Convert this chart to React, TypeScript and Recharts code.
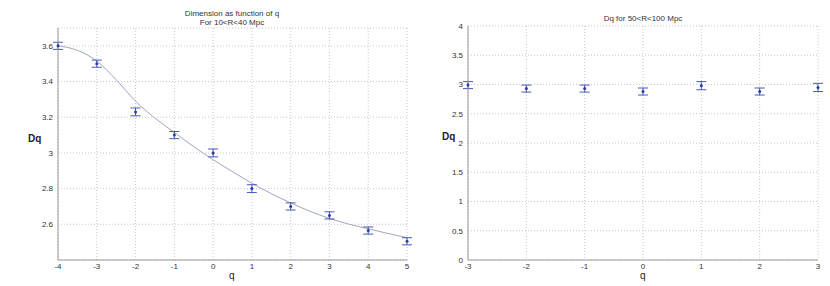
import React from "react";
import {
  ComposedChart,
  Line,
  Scatter,
  ErrorBar,
  XAxis,
  YAxis,
  CartesianGrid
} from "recharts";

// left panel: 10<R<40 Mpc
const qLeft = [-4, -3, -2, -1, 0, 1, 2, 3, 4, 5];
const dqLeft = [3.6, 3.5, 3.23, 3.1, 3.0, 2.8, 2.7, 2.65, 2.565, 2.505];
const errLeft = [0.02, 0.02, 0.022, 0.02, 0.022, 0.022, 0.02, 0.02, 0.02, 0.02];
// fitted curve, read at half steps of q
const qFit = [-4, -3.5, -3, -2.5, -2, -1.5, -1, -0.5, 0, 0.5, 1, 1.5, 2, 2.5, 3, 3.5, 4, 4.5, 5];
const fitLeft = [
  3.6, 3.575, 3.515, 3.41, 3.29, 3.195, 3.115, 3.035, 2.962, 2.895, 2.83,
  2.772, 2.72, 2.673, 2.633, 2.601, 2.575, 2.549, 2.525
];
const yTicksLeft = [2.6, 2.8, 3, 3.2, 3.4, 3.6];

// right panel: 50<R<100 Mpc
const qRight = [-3, -2, -1, 0, 1, 2, 3];
const dqRight = [2.99, 2.93, 2.93, 2.88, 2.98, 2.88, 2.95];
const errRight = [0.06, 0.06, 0.06, 0.06, 0.07, 0.06, 0.07];
const yTicksRight = [0, 0.5, 1, 1.5, 2, 2.5, 3, 3.5, 4];

const FONT = "'Liberation Sans', Arial, sans-serif";
const BLUE = "#2a3aa6";
const GRID = "#c8c8c8";
const BOX = "#9a9a9a";

const pointsLeft = qLeft.map((q, i) => ({ q, dq: dqLeft[i], err: errLeft[i] }));
const curveLeft = qFit.map((q, i) => ({ q, fit: fitLeft[i] }));
const pointsRight = qRight.map((q, i) => ({ q, dq: dqRight[i], err: errRight[i] }));

const dot = (p: any) => <circle cx={p.cx} cy={p.cy} r={1.5} fill={BLUE} />;
const tick = { fontSize: 8, fill: "#333", fontFamily: FONT };

function Title({ left, top, lines }: any) {
  return (
    <div
      style={{
        position: "absolute",
        left: left - 150,
        top,
        width: 300,
        textAlign: "center",
        fontFamily: FONT,
        fontSize: 8,
        lineHeight: "9px",
        color: "#333"
      }}
    >
      {lines.map((l: string) => (
        <div key={l}>{l}</div>
      ))}
    </div>
  );
}

function AxisText({ left, top, text, size, bold }: any) {
  return (
    <div
      style={{
        position: "absolute",
        left,
        top,
        fontFamily: FONT,
        fontSize: size,
        lineHeight: `${size + 2}px`,
        fontWeight: bold ? "bold" : "normal",
        color: "#222",
        whiteSpace: "nowrap"
      }}
    >
      {text}
    </div>
  );
}

export default function App() {
  return (
    <div
      style={{
        position: "absolute",
        left: 0,
        top: 0,
        width: 830,
        height: 286,
        background: "#fff",
        overflow: "hidden"
      }}
    >
      <div style={{ position: "absolute", left: 0, top: 0 }}>
        <ComposedChart
          width={420}
          height={286}
          data={curveLeft}
          margin={{ top: 28, right: 13, bottom: 6, left: 28 }}
        >
          <CartesianGrid xAxisId="b" yAxisId="l" stroke={GRID} strokeDasharray="1 2" />
          <XAxis
            xAxisId="b"
            type="number"
            dataKey="q"
            domain={[-4, 5]}
            ticks={qLeft}
            interval={0}
            height={20}
            tick={tick}
            tickLine={false}
            tickSize={0}
            tickMargin={3}
            axisLine={{ stroke: BOX }}
          />
          <XAxis
            xAxisId="t"
            orientation="top"
            type="number"
            dataKey="q"
            domain={[-4, 5]}
            ticks={qLeft}
            height={0}
            tick={false}
            tickLine={false}
            axisLine={{ stroke: BOX }}
          />
          <YAxis
            yAxisId="l"
            type="number"
            domain={[2.4, 3.7]}
            ticks={yTicksLeft}
            interval={0}
            width={30}
            tick={tick}
            tickLine={false}
            tickSize={0}
            tickMargin={5}
            axisLine={{ stroke: BOX }}
          />
          <YAxis
            yAxisId="r"
            orientation="right"
            type="number"
            domain={[2.4, 3.7]}
            ticks={yTicksLeft}
            width={0}
            tick={false}
            tickLine={false}
            axisLine={{ stroke: BOX }}
          />
          <Line
            xAxisId="b"
            yAxisId="l"
            type="monotone"
            dataKey="fit"
            stroke="#a0a6c2"
            strokeWidth={1}
            dot={false}
            isAnimationActive={false}
          />
          <Scatter
            xAxisId="b"
            yAxisId="l"
            data={pointsLeft}
            dataKey="dq"
            shape={dot}
            isAnimationActive={false}
          >
            <ErrorBar dataKey="err" direction="y" width={5} stroke="#3848b0" strokeWidth={0.9} />
          </Scatter>
        </ComposedChart>
      </div>
      <Title left={232} top={9} lines={["Dimension as function of q", "For 10<R<40 Mpc"]} />
      <AxisText left={28} top={133} text="Dq" size={10} bold />
      <AxisText left={229} top={270} text="q" size={10} />

      <div style={{ position: "absolute", left: 420, top: 0 }}>
        <ComposedChart
          width={410}
          height={286}
          data={pointsRight}
          margin={{ top: 26, right: 12, bottom: 6, left: 18 }}
        >
          <CartesianGrid xAxisId="b" yAxisId="l" stroke={GRID} strokeDasharray="1 2" />
          <XAxis
            xAxisId="b"
            type="number"
            dataKey="q"
            domain={[-3, 3]}
            ticks={qRight}
            interval={0}
            height={20}
            tick={tick}
            tickLine={false}
            tickSize={0}
            tickMargin={3}
            axisLine={{ stroke: BOX }}
          />
          <XAxis
            xAxisId="t"
            orientation="top"
            type="number"
            dataKey="q"
            domain={[-3, 3]}
            ticks={qRight}
            height={0}
            tick={false}
            tickLine={false}
            axisLine={{ stroke: BOX }}
          />
          <YAxis
            yAxisId="l"
            type="number"
            domain={[0, 4]}
            ticks={yTicksRight}
            interval={0}
            width={30}
            tick={tick}
            tickLine={false}
            tickSize={0}
            tickMargin={5}
            axisLine={{ stroke: BOX }}
          />
          <YAxis
            yAxisId="r"
            orientation="right"
            type="number"
            domain={[0, 4]}
            ticks={yTicksRight}
            width={0}
            tick={false}
            tickLine={false}
            axisLine={{ stroke: BOX }}
          />
          <Scatter
            xAxisId="b"
            yAxisId="l"
            dataKey="dq"
            shape={dot}
            isAnimationActive={false}
          >
            <ErrorBar dataKey="err" direction="y" width={5} stroke="#3848b0" strokeWidth={0.9} />
          </Scatter>
        </ComposedChart>
      </div>
      <Title left={643} top={14} lines={["Dq for 50<R<100 Mpc"]} />
      <AxisText left={442} top={131} text="Dq" size={10} bold />
      <AxisText left={640} top={270} text="q" size={10} />
    </div>
  );
}
